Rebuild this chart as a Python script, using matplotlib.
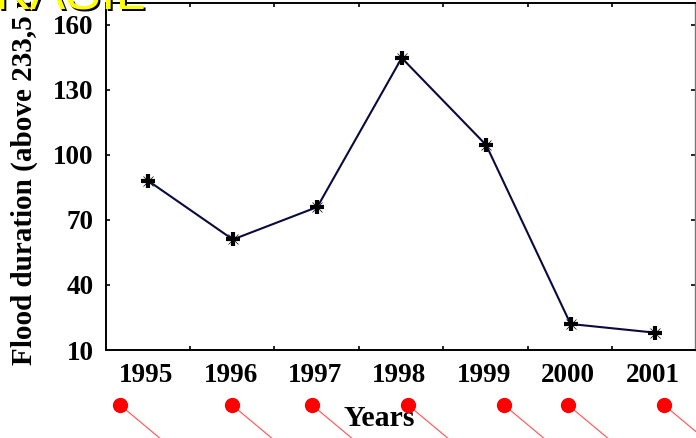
import matplotlib
matplotlib.use("Agg")
import matplotlib.pyplot as plt
from matplotlib.lines import Line2D

years = [1995, 1996, 1997, 1998, 1999, 2000, 2001]
duration = [88, 61, 76, 144.8, 104.6, 22, 18]
y_ticks = [10, 40, 70, 100, 130, 160]
x_edges = [1995.5, 1996.5, 1997.5, 1998.5, 1999.5, 2000.5]
dot_px = [120, 232, 312, 408, 504, 568, 664]

W, H = 696, 438
SERIF = "Liberation Serif"
fig = plt.figure(figsize=(W / 100, H / 100), dpi=100)
ax = fig.add_axes([106 / W, 1 - 350 / H, 589 / W, 347 / H])

ax.plot(years, duration, color="#0a0a3c", lw=1.5, zorder=2)
ax.plot(years, duration, ls="none", marker="+", ms=10, mew=3.0, color="black", zorder=3)
ax.plot(years, duration, ls="none", marker="x", ms=7, mew=0.5, color="black", zorder=3)

ax.set_xlim(1994.497, 2001.474)
ax.set_ylim(10, 170.15)
ax.set_yticks(y_ticks)
ax.set_xticks([y - 0.027 for y in years])
ax.set_xticklabels([str(y) for y in years], fontfamily=SERIF, fontweight="bold", fontsize=19.5)
ax.set_yticklabels([str(v) for v in y_ticks], fontfamily=SERIF, fontweight="bold", fontsize=19.5)
ax.tick_params(axis="x", length=0, pad=9)
ax.tick_params(axis="y", direction="in", length=3, width=1.2, pad=9, right=True)
ax.set_xticks([e - 0.01 for e in x_edges], minor=True)
ax.tick_params(axis="x", which="minor", direction="in", length=3, width=1.2, top=True)
for s in ax.spines.values():
    s.set_linewidth(1.4)
    s.set_color("black")
ax.spines["right"].set_linewidth(1.0)
ax.spines["right"].set_color("#777777")

fig.text(24 / W, 1 - 365 / H, "Flood duration (above 233,5 m)", rotation=90, ha="center", va="bottom",
         fontfamily=SERIF, fontweight="bold", fontsize=21, color="black")
fig.text(379 / W, 1 - 416 / H, "Years", ha="center", va="center_baseline",
         fontfamily=SERIF, fontweight="bold", fontsize=21.5, color="black")

for x in dot_px:
    fig.add_artist(Line2D([x / W, (x + 42) / W], [1 - 405 / H, 1 - 440 / H],
                          transform=fig.transFigure, color="#ff5050", lw=0.8, zorder=5))
    fig.add_artist(Line2D([x / W], [1 - 405 / H], transform=fig.transFigure, marker="o", ms=11,
                          color="#ff0000", mec="none", ls="none", zorder=6))

for dx, dy, col, z in [(2, 2, "black", 8), (0, 0, "#ffff00", 9)]:
    fig.text((-5 + dx) / W, 1 - (10 + dy) / H, "KASIL", ha="left", va="baseline",
             fontfamily="Liberation Sans", fontsize=38.5, color=col, zorder=z)

fig.savefig("out.png", dpi=100)
